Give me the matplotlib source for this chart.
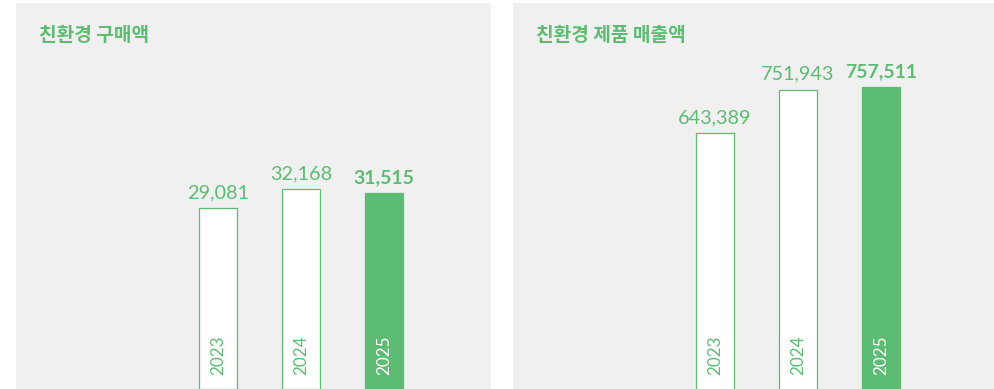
import matplotlib.pyplot as plt

# 친환경 구매액 / 친환경 제품 매출액 (2023-2025)
years = ['2023', '2024', '2025']
purchase = [29081, 32168, 31515]
sales = [643389, 751943, 757511]

GREEN = '#5cbd72'
PANEL = '#f0f0f0'
DPI = 100

plt.rcParams['font.family'] = ['Lato', 'DejaVu Sans']

fig = plt.figure(figsize=(9.95, 3.89), dpi=DPI)
W, H = 995, 389


def panel(left, right, values, ylim, title):
    ax = fig.add_axes([left / W, 0, (right - left) / W, (H - 3) / H])
    ax.set_facecolor(PANEL)
    for s in ax.spines.values():
        s.set_visible(False)
    ax.set_xticks([])
    ax.set_yticks([])

    # one category step is 83 px wide, first bar centred 202 px from the panel's left edge
    x0 = -202 / 83
    ax.set_xlim(x0, x0 + (right - left) / 83)
    ax.set_ylim(*ylim)

    pos = range(len(values))
    faces = ['white', 'white', GREEN]
    ax.bar(pos, values, width=0.455, color=faces, edgecolor=GREEN, linewidth=0.9)

    for i, v in enumerate(values):
        last = i == len(values) - 1
        ax.annotate(f'{v:,}', (i, v), xytext=(0, 5), textcoords='offset points',
                    ha='center', va='bottom', color=GREEN,
                    fontsize=14 if last else 14.3,
                    fontweight='bold' if last else 'normal')
        ax.annotate(years[i], (i, 0), xycoords=('data', 'axes fraction'),
                    xytext=(0, 10), textcoords='offset points',
                    ha='center', va='bottom', rotation=90,
                    color='white' if last else GREEN, fontsize=12.3)

    ax.text(23 / (right - left), 1 - 32.5 / (H - 3), title, transform=ax.transAxes,
            ha='left', va='center', color=GREEN, fontsize=13.8,
            fontweight='bold', family=['Noto Sans CJK KR', 'DejaVu Sans'])
    return ax


panel(16, 491, purchase, (0, 62120), '친환경 구매액')
panel(513, 995, sales, (6720, 967880), '친환경 제품 매출액')

fig.savefig('out.png', dpi=DPI, facecolor='white')
